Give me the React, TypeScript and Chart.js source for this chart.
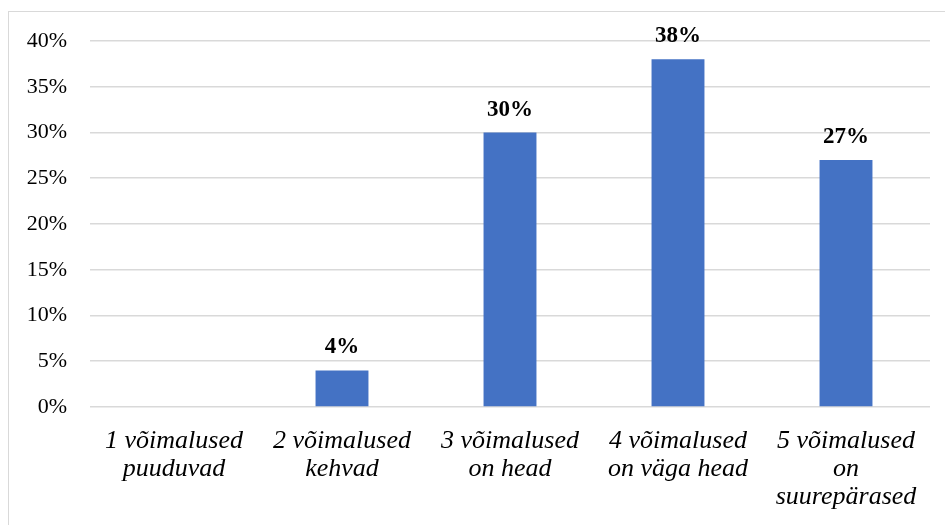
import React, { useEffect, useRef } from "react";
import { Chart, registerables } from "chart.js";

Chart.register(...registerables);

const categories: string[][] = [
  ["1 võimalused", "puuduvad"],
  ["2 võimalused", "kehvad"],
  ["3 võimalused", "on head"],
  ["4 võimalused", "on väga head"],
  ["5 võimalused", "on", "suurepärased"],
];
const values: number[] = [0, 4, 30, 38, 27];
const yMin = 0;
const yMax = 40;
const yStep = 5;

const FONT = "Liberation Serif";
Chart.defaults.font.family = FONT;

const valueLabels = {
  id: "valueLabels",
  afterDatasetsDraw(chart: any) {
    const ctx = chart.ctx;
    const meta = chart.getDatasetMeta(0);
    ctx.save();
    ctx.font = `bold 23px ${FONT}`;
    ctx.fillStyle = "#000";
    ctx.textAlign = "center";
    ctx.textBaseline = "alphabetic";
    meta.data.forEach((el: any, i: number) => {
      const v = values[i];
      if (!v) return;
      ctx.fillText(`${v}%`, el.x, el.y - 17);
    });
    ctx.restore();
  },
};

export default function App() {
  const ref = useRef<HTMLCanvasElement | null>(null);
  useEffect(() => {
    let chart: any = null;
    let cancelled = false;
    const make = () => {
      if (cancelled || !ref.current) return;
      chart = new Chart(ref.current, {
        type: "bar",
        data: {
          labels: categories,
          datasets: [
            {
              data: values,
              backgroundColor: "#4472c4",
              borderWidth: 0,
              barPercentage: 0.315,
              categoryPercentage: 1,
            },
          ],
        },
        options: {
          animation: false,
          responsive: false,
          maintainAspectRatio: false,
          font: { family: FONT },
          layout: { padding: { top: 41, right: 15, left: 0, bottom: 0 } },
          plugins: {
            legend: { display: false },
            tooltip: { enabled: false },
          },
          scales: {
            x: {
              grid: { display: false },
              border: { display: false },
              ticks: {
                color: "#000",
                font: { family: FONT, size: 26, style: "italic", lineHeight: 1.08 },
                padding: 12,
                maxRotation: 0,
                minRotation: 0,
                autoSkip: false,
              },
              afterFit: (s: any) => {
                s.height = 118;
              },
            },
            y: {
              min: yMin,
              max: yMax,
              grid: { color: "#d9d9d9", lineWidth: 1.6, drawTicks: false },
              border: { display: false },
              ticks: {
                stepSize: yStep,
                color: "#000",
                font: { family: FONT, size: 22 },
                padding: 23,
                callback: (v: any) => `${v}%`,
              },
              afterFit: (s: any) => {
                s.width = 90;
              },
            },
          },
        },
        plugins: [valueLabels],
      });
    };
    const fontsApi: any = (document as any).fonts;
    if (fontsApi && fontsApi.load) {
      Promise.all([
        fontsApi.load(`22px "${FONT}"`),
        fontsApi.load(`italic 26px "${FONT}"`),
        fontsApi.load(`bold 23px "${FONT}"`),
      ])
        .catch(() => null)
        .then(make);
    } else {
      make();
    }
    return () => {
      cancelled = true;
      if (chart) chart.destroy();
    };
  }, []);
  return (
    <>
      <div
        style={{
          position: "fixed",
          left: 8,
          top: 11,
          width: 960,
          height: 540,
          border: "1px solid #d9d9d9",
          boxSizing: "border-box",
        }}
      />
      <canvas
        ref={ref}
        width={945}
        height={525}
        style={{ position: "fixed", left: 0, top: 0, width: 945, height: 525, display: "block" }}
      />
    </>
  );
}
